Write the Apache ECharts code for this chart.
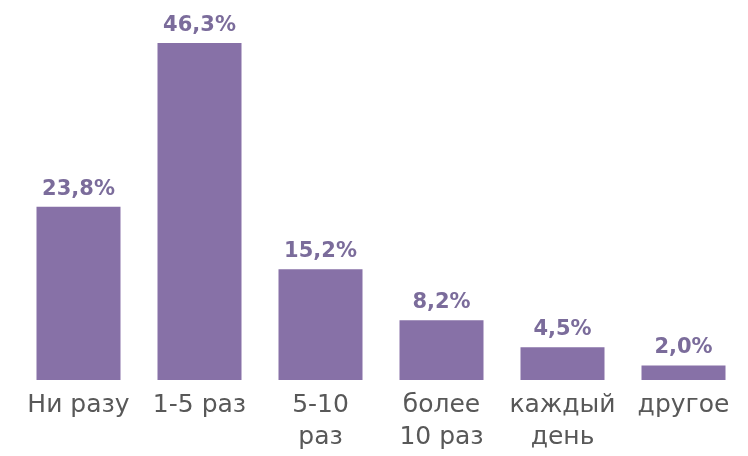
<!DOCTYPE html>
<html><head><meta charset="utf-8">
<script src="https://cdn.jsdelivr.net/npm/echarts@6/dist/echarts.min.js"></script>
<style>html,body{margin:0;padding:0;background:#fff}#c{width:748px;height:456px}</style>
</head><body><div id="c"></div>
<script>
var categories = ['Ни разу', '1-5 раз', '5-10\nраз', 'более\n10 раз', 'каждый\nдень', 'другое'];
var values = [23.8, 46.3, 15.2, 8.2, 4.5, 2.0];
var chart = echarts.init(document.getElementById('c'));
chart.setOption({
  animation: false,
  grid: {left: 18, right: 4, top: 16, bottom: 76},
  xAxis: {
    type: 'category', data: categories,
    axisLine: {show: false}, axisTick: {show: false},
    axisLabel: {interval: 0, color: '#585858', fontFamily: 'DejaVu Sans', fontSize: 25, lineHeight: 32, margin: 9}
  },
  yAxis: {type: 'value', min: 0, max: 50, show: false, splitLine: {show: false}},
  series: [{
    type: 'bar', data: values, barWidth: 84,
    itemStyle: {color: '#8771a7'},
    label: {
      show: true, position: 'top', distance: 7,
      formatter: function(p){ return p.value.toFixed(1).replace('.', ',') + '%'; },
      color: '#7b6c9b', fontFamily: 'DejaVu Sans', fontWeight: 'bold', fontSize: 21
    }
  }]
});
</script></body></html>
